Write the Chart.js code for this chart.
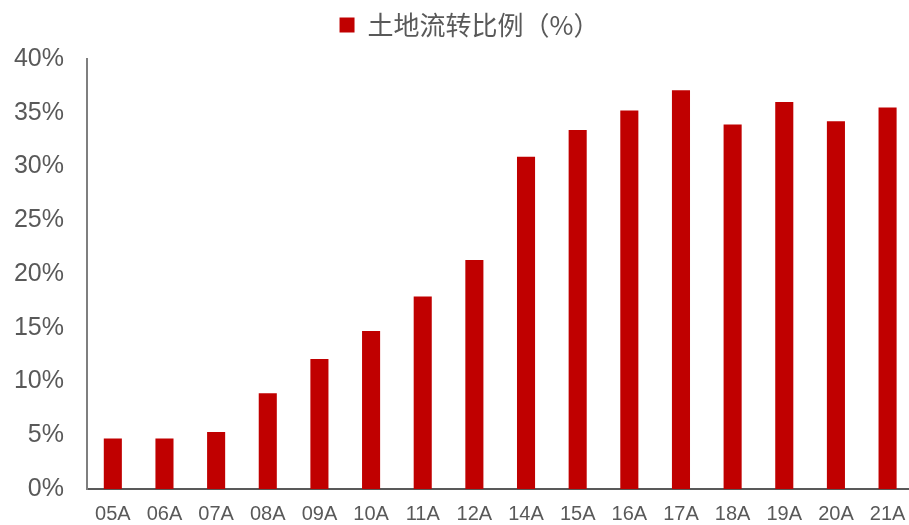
<!DOCTYPE html>
<html>
<head>
<meta charset="utf-8">
<script src="https://cdn.jsdelivr.net/npm/chart.js@4"></script>
<style>
    html, body { margin: 0; padding: 0; background: #ffffff; }
    #wrap { width: 909px; height: 525px; position: relative; }
</style>
</head>
<body>
<div id="wrap"><canvas id="landChart"></canvas></div>
<script>
const years = ["05A", "06A", "07A", "08A", "09A", "10A", "11A", "12A", "14A", "15A", "16A", "17A", "18A", "19A", "20A", "21A"];
const transferRatio = [4.7, 4.7, 5.3, 8.9, 12.1, 14.7, 17.9, 21.3, 30.9, 33.4, 35.2, 37.1, 33.9, 36.0, 34.2, 35.5];
const seriesName = "土地流转比例（%）";

const textColor = "#595959";
const fontFamily = "'Liberation Sans', Arial, 'Noto Sans CJK SC', sans-serif";

// fixed legend band above the plot; legend nudged right and the
// category axis allowed to run a little past the right edge
const layoutTweaks = {
    id: "layoutTweaks",
    beforeInit(chart) {
        const fit = chart.legend.fit;
        chart.legend.fit = function () {
            fit.bind(chart.legend)();
            this.height = 59;
        };
    },
    afterLayout(chart) {
        chart.legend.left += 15;
        chart.legend.right += 15;
        const xs = chart.scales.x;
        xs.right += 4.4;
        xs.width += 4.4;
        xs.configure();
    },
};

new Chart(document.getElementById("landChart"), {
    type: "bar",
    data: {
        labels: years,
        datasets: [{
            label: seriesName,
            data: transferRatio,
            backgroundColor: "#C00000",
            borderWidth: 0,
            barPercentage: 0.35,
            categoryPercentage: 1.0,
        }],
    },
    options: {
        responsive: true,
        maintainAspectRatio: false,
        animation: false,
        layout: { padding: 0 },
        plugins: {
            legend: {
                position: "top",
                labels: {
                    color: textColor,
                    boxWidth: 15,
                    boxHeight: 15,
                    padding: 12,
                    font: { size: 26, family: "'Noto Sans CJK SC', sans-serif" },
                },
            },
            tooltip: { enabled: false },
        },
        scales: {
            x: {
                grid: { display: false, drawTicks: false },
                border: { display: true, color: textColor, width: 2 },
                ticks: { color: textColor, padding: 13, font: { size: 20, family: fontFamily } },
                afterFit(scale) {
                    scale.height = 36;
                    scale.paddingLeft = 0;
                    scale.paddingRight = 0;
                },
            },
            y: {
                min: 0,
                max: 40,
                grid: { display: false, drawTicks: false },
                border: { display: true, color: "#7f7f7f", width: 2 },
                ticks: {
                    stepSize: 5,
                    color: textColor,
                    padding: 23,
                    font: { size: 25, family: fontFamily },
                    callback: (v) => v + "%",
                },
                afterFit(scale) {
                    scale.width = 87;
                    scale.paddingTop = 0;
                    scale.paddingBottom = 0;
                },
            },
        },
    },
    plugins: [layoutTweaks],
});
</script>
</body>
</html>
